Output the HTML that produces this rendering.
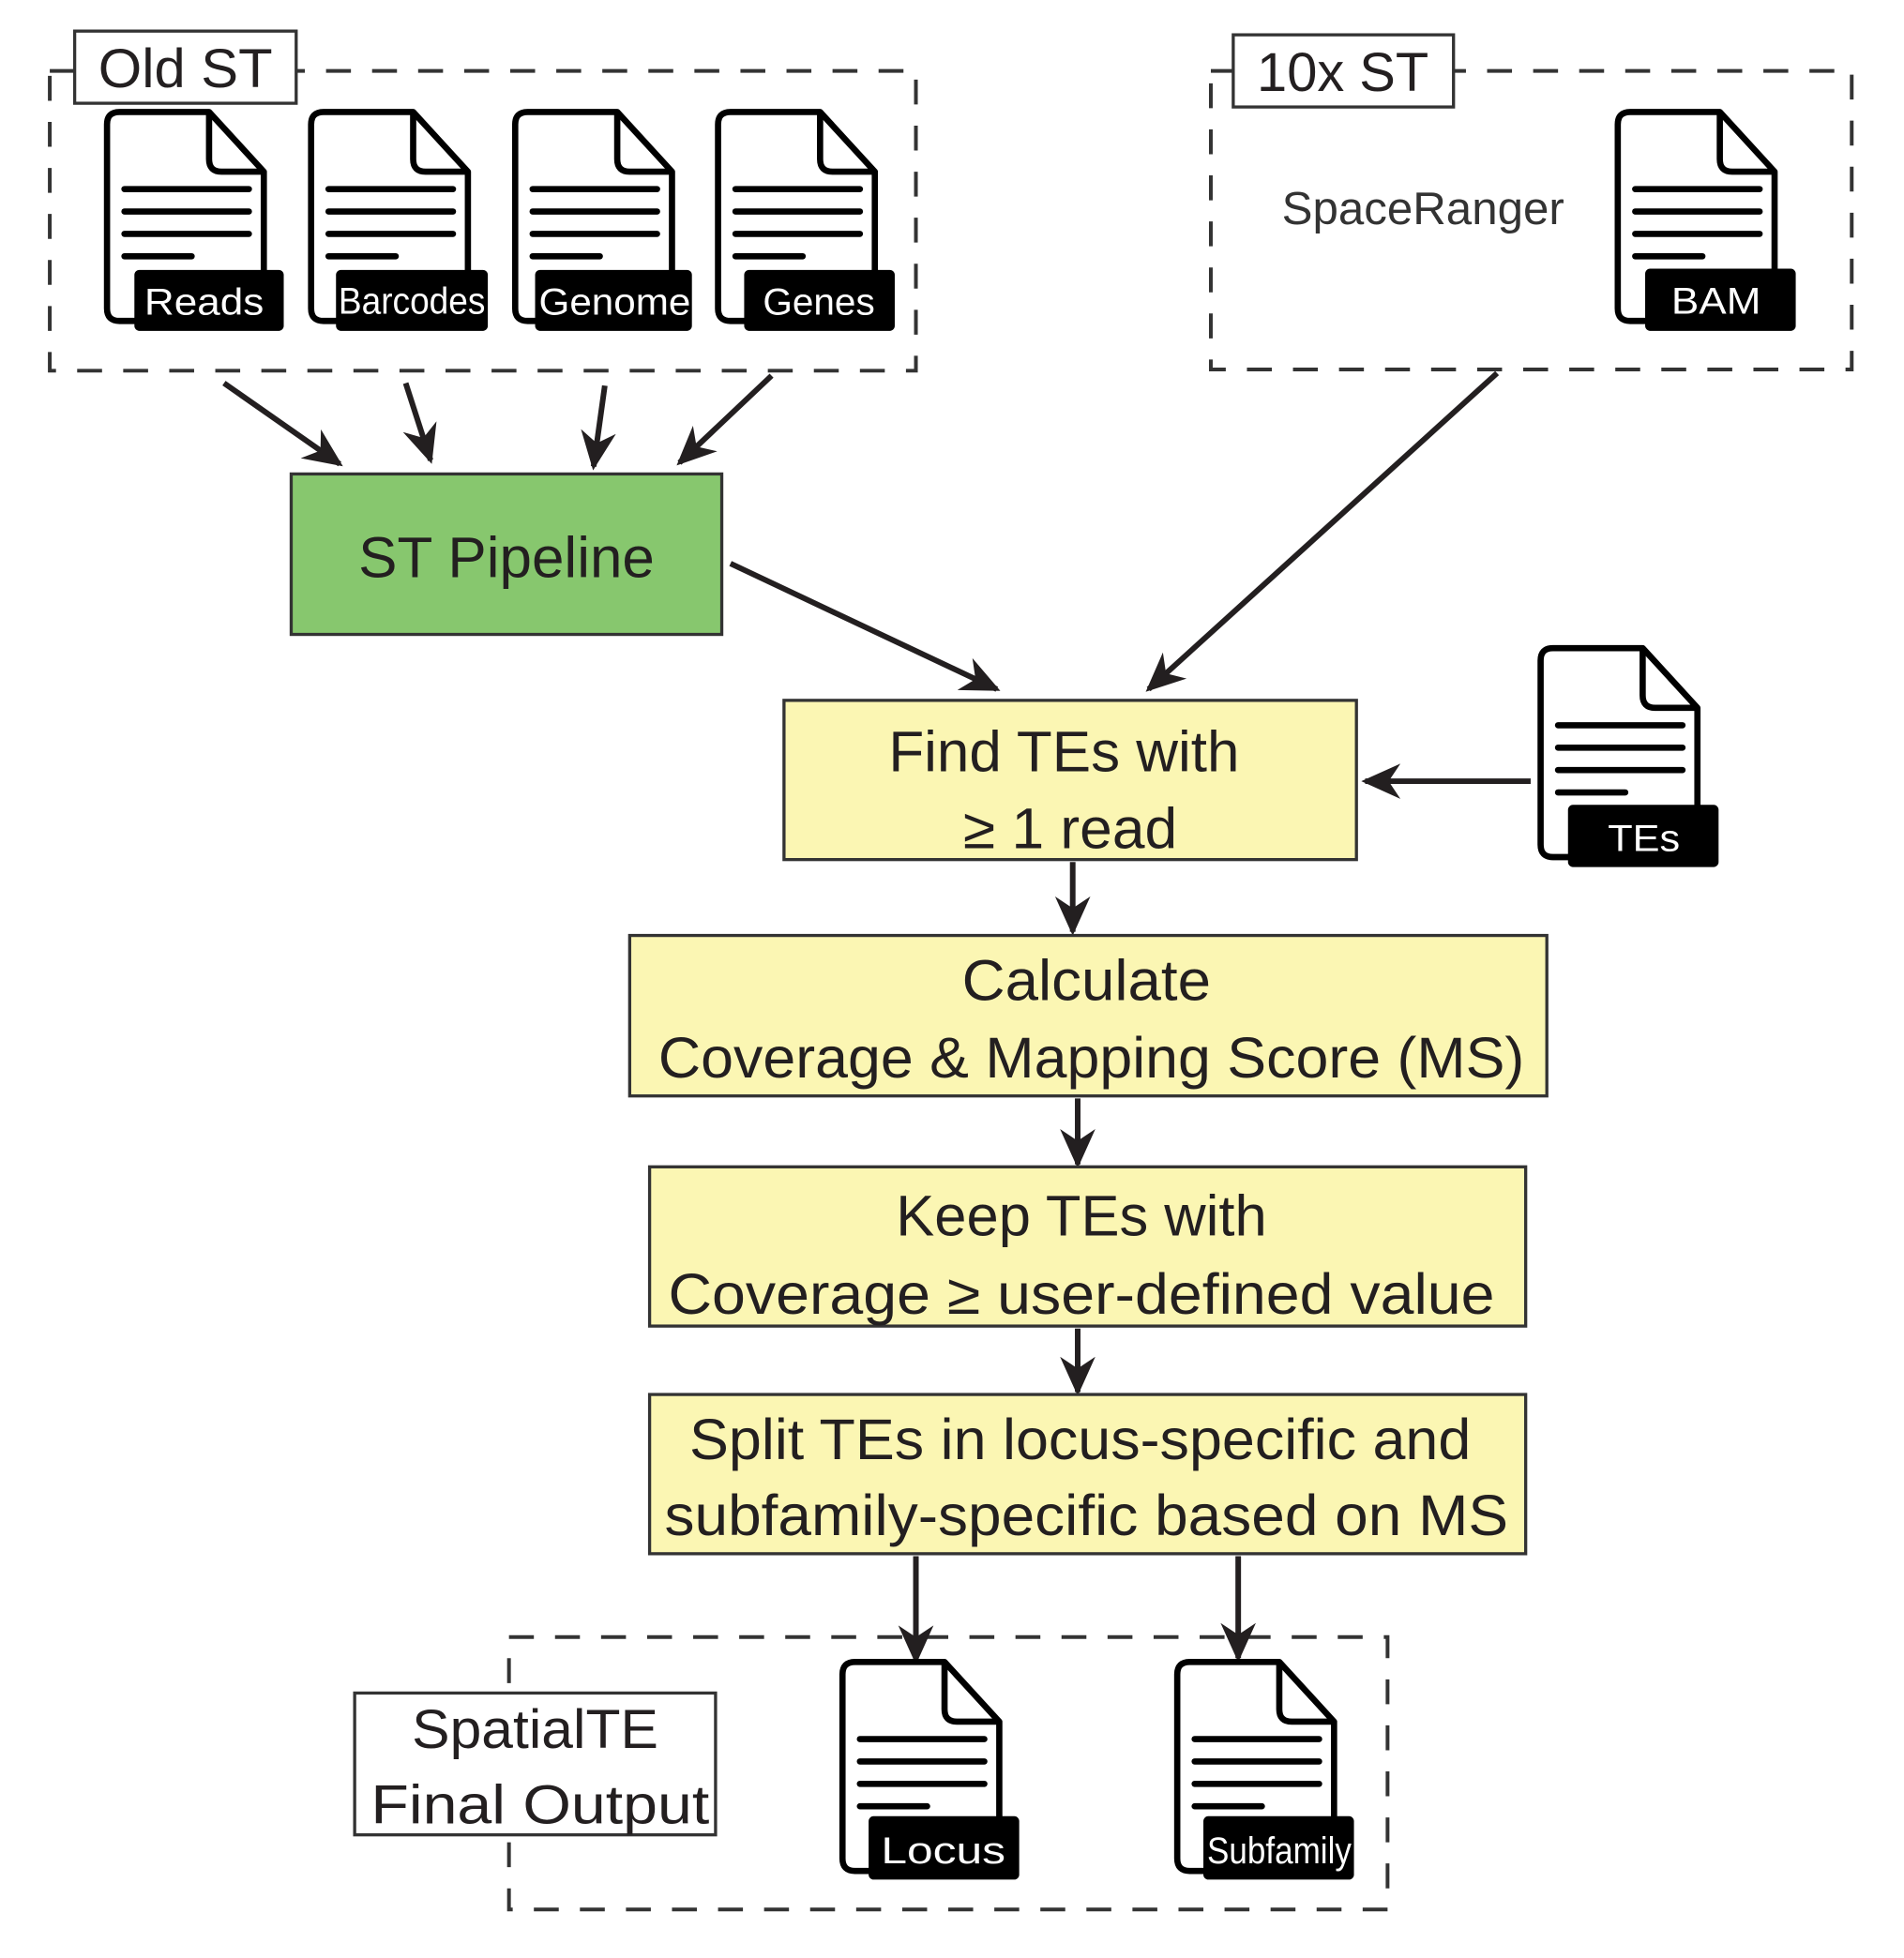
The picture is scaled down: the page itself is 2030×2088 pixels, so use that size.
<!DOCTYPE html>
<html><head><meta charset="utf-8"><style>
html,body{margin:0;padding:0;background:#fff;}
svg{display:block;}
text{font-family:"Liberation Sans",sans-serif;fill:#231f20;}
.lbl{fill:#fff;font-size:30px;text-anchor:middle;}
.doc path.o{fill:#fff;stroke:#000;stroke-width:5;stroke-linejoin:round;}
.doc path.f{fill:none;stroke:#000;stroke-width:5;stroke-linejoin:round;}
.doc line{stroke:#000;stroke-width:5;stroke-linecap:round;}
.dash{fill:none;stroke:#333;stroke-width:3;stroke-dasharray:20 17;}
.arr{stroke:#231f20;stroke-width:4.5;fill:none;marker-end:url(#ah);}
.box{stroke:#333;stroke-width:2.5;}
</style></head><body>
<svg width="2030" height="2088" viewBox="0 0 1530 1574" preserveAspectRatio="none" xmlns="http://www.w3.org/2000/svg">
<defs>
<marker id="ah" viewBox="0 0 20 20" refX="18" refY="10" markerWidth="7" markerHeight="7" orient="auto" markerUnits="strokeWidth">
<path d="M0,1 L20,10 L0,19 L6,10 Z" fill="#231f20"/>
</marker>
</defs>

<!-- Old ST -->
<rect class="dash" x="40" y="57" width="696" height="241"/>
<rect x="60" y="25" width="178" height="58" fill="#fff" stroke="#333" stroke-width="2.5"/>
<text x="149" y="70" font-size="44" text-anchor="middle" textLength="140" lengthAdjust="spacingAndGlyphs">Old ST</text>

<g class="doc" transform="translate(86,90)">
<path class="o" d="M0,10 Q0,0 10,0 H82 L126,48 V168 H10 Q0,168 0,158 Z"/><path class="f" d="M82,0 V38 Q82,48 92,48 H126"/>
<line x1="14" y1="62" x2="114" y2="62"/><line x1="14" y1="80" x2="114" y2="80"/><line x1="14" y1="98" x2="114" y2="98"/><line x1="14" y1="116" x2="68" y2="116"/>
<rect x="22" y="127" width="120" height="49" rx="4" fill="#000"/><text class="lbl" x="78" y="163" textLength="96" lengthAdjust="spacingAndGlyphs">Reads</text></g>
<g class="doc" transform="translate(250,90)">
<path class="o" d="M0,10 Q0,0 10,0 H82 L126,48 V168 H10 Q0,168 0,158 Z"/><path class="f" d="M82,0 V38 Q82,48 92,48 H126"/>
<line x1="14" y1="62" x2="114" y2="62"/><line x1="14" y1="80" x2="114" y2="80"/><line x1="14" y1="98" x2="114" y2="98"/><line x1="14" y1="116" x2="68" y2="116"/>
<rect x="20" y="127" width="122" height="49" rx="4" fill="#000"/><text class="lbl" x="81" y="162" font-size="27" textLength="118" lengthAdjust="spacingAndGlyphs">Barcodes</text></g>
<g class="doc" transform="translate(414,90)">
<path class="o" d="M0,10 Q0,0 10,0 H82 L126,48 V168 H10 Q0,168 0,158 Z"/><path class="f" d="M82,0 V38 Q82,48 92,48 H126"/>
<line x1="14" y1="62" x2="114" y2="62"/><line x1="14" y1="80" x2="114" y2="80"/><line x1="14" y1="98" x2="114" y2="98"/><line x1="14" y1="116" x2="68" y2="116"/>
<rect x="16" y="127" width="126" height="49" rx="4" fill="#000"/><text class="lbl" x="80" y="163" textLength="122" lengthAdjust="spacingAndGlyphs">Genome</text></g>
<g class="doc" transform="translate(577,90)">
<path class="o" d="M0,10 Q0,0 10,0 H82 L126,48 V168 H10 Q0,168 0,158 Z"/><path class="f" d="M82,0 V38 Q82,48 92,48 H126"/>
<line x1="14" y1="62" x2="114" y2="62"/><line x1="14" y1="80" x2="114" y2="80"/><line x1="14" y1="98" x2="114" y2="98"/><line x1="14" y1="116" x2="68" y2="116"/>
<rect x="21" y="127" width="121" height="49" rx="4" fill="#000"/><text class="lbl" x="81" y="163" textLength="90" lengthAdjust="spacingAndGlyphs">Genes</text></g>

<!-- 10x ST -->
<rect class="dash" x="973" y="57" width="515" height="240"/>
<rect x="991" y="28" width="177" height="58" fill="#fff" stroke="#333" stroke-width="2.5"/>
<text x="1079" y="73" font-size="44" text-anchor="middle" textLength="138" lengthAdjust="spacingAndGlyphs">10x ST</text>
<text x="1030" y="180" font-size="37" textLength="227" lengthAdjust="spacingAndGlyphs" style="fill:#333">SpaceRanger</text>
<g class="doc" transform="translate(1300,90)">
<path class="o" d="M0,10 Q0,0 10,0 H82 L126,48 V168 H10 Q0,168 0,158 Z"/><path class="f" d="M82,0 V38 Q82,48 92,48 H126"/>
<line x1="14" y1="62" x2="114" y2="62"/><line x1="14" y1="80" x2="114" y2="80"/><line x1="14" y1="98" x2="114" y2="98"/><line x1="14" y1="116" x2="68" y2="116"/>
<rect x="22" y="126" width="121" height="50" rx="4" fill="#000"/><text class="lbl" x="79" y="162" textLength="72" lengthAdjust="spacingAndGlyphs">BAM</text></g>

<!-- arrows top -->
<line class="arr" x1="180" y1="308" x2="273" y2="373"/>
<line class="arr" x1="326" y1="308" x2="346" y2="370"/>
<line class="arr" x1="486" y1="310" x2="477" y2="375"/>
<line class="arr" x1="620" y1="302" x2="546" y2="372"/>

<!-- ST Pipeline -->
<rect class="box" x="234" y="381" width="346" height="129" fill="#87c76e"/>
<text x="407" y="464" font-size="46" text-anchor="middle" textLength="238" lengthAdjust="spacingAndGlyphs">ST Pipeline</text>

<line class="arr" x1="587" y1="453" x2="801" y2="554"/>
<line class="arr" x1="1203" y1="300" x2="923" y2="554"/>

<!-- Find TEs -->
<rect class="box" x="630" y="563" width="460" height="128" fill="#fbf6b3"/>
<text x="855" y="620" font-size="46" text-anchor="middle" textLength="282" lengthAdjust="spacingAndGlyphs">Find TEs with</text>
<text x="860" y="682" font-size="46" text-anchor="middle" textLength="172" lengthAdjust="spacingAndGlyphs">≥ 1 read</text>

<g class="doc" transform="translate(1238,521)">
<path class="o" d="M0,10 Q0,0 10,0 H82 L126,48 V168 H10 Q0,168 0,158 Z"/><path class="f" d="M82,0 V38 Q82,48 92,48 H126"/>
<line x1="14" y1="62" x2="114" y2="62"/><line x1="14" y1="80" x2="114" y2="80"/><line x1="14" y1="98" x2="114" y2="98"/><line x1="14" y1="116" x2="68" y2="116"/>
<rect x="22" y="126" width="121" height="50" rx="4" fill="#000"/><text class="lbl" x="83" y="163" textLength="58" lengthAdjust="spacingAndGlyphs">TEs</text></g>
<line class="arr" x1="1230" y1="628" x2="1097" y2="628"/>

<line class="arr" x1="862" y1="693" x2="862" y2="749"/>

<!-- Calculate -->
<rect class="box" x="506" y="752" width="737" height="129" fill="#fbf6b3"/>
<text x="873" y="804" font-size="46" text-anchor="middle" textLength="200" lengthAdjust="spacingAndGlyphs">Calculate</text>
<text x="877" y="866" font-size="46" text-anchor="middle" textLength="696" lengthAdjust="spacingAndGlyphs">Coverage &amp; Mapping Score (MS)</text>

<line class="arr" x1="866" y1="883" x2="866" y2="936"/>

<!-- Keep -->
<rect class="box" x="522" y="938" width="704" height="128" fill="#fbf6b3"/>
<text x="869" y="993" font-size="46" text-anchor="middle" textLength="298" lengthAdjust="spacingAndGlyphs">Keep TEs with</text>
<text x="869" y="1056" font-size="46" text-anchor="middle" textLength="664" lengthAdjust="spacingAndGlyphs">Coverage ≥ user-defined value</text>

<line class="arr" x1="866" y1="1068" x2="866" y2="1119"/>

<!-- Split -->
<rect class="box" x="522" y="1121" width="704" height="128" fill="#fbf6b3"/>
<text x="868" y="1173" font-size="46" text-anchor="middle" textLength="628" lengthAdjust="spacingAndGlyphs">Split TEs in locus-specific and</text>
<text x="873" y="1234" font-size="46" text-anchor="middle" textLength="678" lengthAdjust="spacingAndGlyphs">subfamily-specific based on MS</text>

<!-- bottom -->
<rect class="dash" x="409" y="1316" width="706" height="219"/>
<line class="arr" x1="736" y1="1251" x2="736" y2="1335"/>
<line class="arr" x1="995" y1="1251" x2="995" y2="1333"/>
<rect x="285" y="1361" width="290" height="114" fill="#fff" stroke="#333" stroke-width="2.5"/>
<text x="430" y="1405" font-size="44" text-anchor="middle" textLength="198" lengthAdjust="spacingAndGlyphs">SpatialTE</text>
<text x="434" y="1466" font-size="44" text-anchor="middle" textLength="272" lengthAdjust="spacingAndGlyphs">Final Output</text>

<g class="doc" transform="translate(677,1336)">
<path class="o" d="M0,10 Q0,0 10,0 H82 L126,48 V168 H10 Q0,168 0,158 Z"/><path class="f" d="M82,0 V38 Q82,48 92,48 H126"/>
<line x1="14" y1="62" x2="114" y2="62"/><line x1="14" y1="80" x2="114" y2="80"/><line x1="14" y1="98" x2="114" y2="98"/><line x1="14" y1="116" x2="68" y2="116"/>
<rect x="21" y="124" width="121" height="51" rx="4" fill="#000"/><text class="lbl" x="81" y="162" font-size="34" textLength="100" lengthAdjust="spacingAndGlyphs">Locus</text></g>
<g class="doc" transform="translate(946,1336)">
<path class="o" d="M0,10 Q0,0 10,0 H82 L126,48 V168 H10 Q0,168 0,158 Z"/><path class="f" d="M82,0 V38 Q82,48 92,48 H126"/>
<line x1="14" y1="62" x2="114" y2="62"/><line x1="14" y1="80" x2="114" y2="80"/><line x1="14" y1="98" x2="114" y2="98"/><line x1="14" y1="116" x2="68" y2="116"/>
<rect x="21" y="124" width="121" height="51" rx="4" fill="#000"/><text class="lbl" x="82" y="162" font-size="24" textLength="116" lengthAdjust="spacingAndGlyphs">Subfamily</text></g>
</svg>
</body></html>
